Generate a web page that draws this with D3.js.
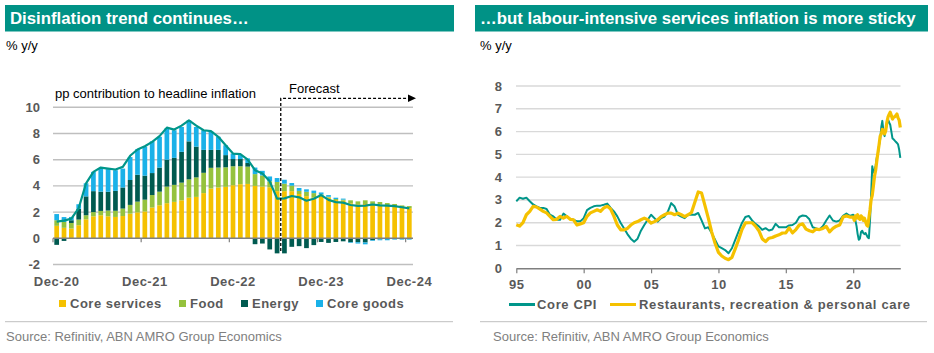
<!DOCTYPE html>
<html><head><meta charset="utf-8">
<script src="https://cdn.jsdelivr.net/npm/d3@7"></script>
<style>
body{margin:0;background:#fff}
svg{display:block;font-family:"Liberation Sans",Arial,Helvetica,sans-serif}
</style>
</head><body>
<svg id="c" width="934" height="353"></svg>
<script>
// ---------- LEFT CHART DATA (monthly, Dec-20 .. Dec-24) ----------
const monthTickLabels = ["Dec-20","Dec-21","Dec-22","Dec-23","Dec-24"];
const seriesNames = ["Core services","Food","Energy","Core goods"];
const coreServices = [0.95,0.8,0.75,1.0,1.45,1.68,1.76,1.68,1.63,1.7,1.88,1.98,2.05,2.35,2.52,2.68,2.78,2.9,3.1,3.16,3.45,3.8,3.88,3.93,4.05,4.13,4.15,4.0,3.95,3.9,3.6,3.6,3.6,3.38,3.22,3.1,3.3,3.12,2.92,2.87,2.67,2.6,2.62,2.6,2.56,2.5,2.45,2.36,2.3];
const food = [0.43,0.45,0.42,0.43,0.31,0.32,0.33,0.44,0.47,0.57,0.67,0.82,0.9,0.95,1.04,1.27,1.3,1.35,1.4,1.49,1.55,1.58,1.52,1.49,1.45,1.37,1.32,0.9,0.85,0.45,0.7,0.57,0.42,0.24,0.33,0.35,0.05,0.05,0.08,0.08,0.23,0.22,0.28,0.22,0.21,0.19,0.17,0.15,0.16];
const energy = [-0.5,-0.2,0.21,0.82,1.44,1.6,1.47,1.43,1.52,1.61,1.9,2.05,1.83,1.68,1.84,2.05,2.06,2.35,2.9,2.35,1.75,1.37,1.35,0.93,0.55,0.55,0.28,-0.45,-0.4,-0.85,-1.15,-1.15,-0.65,-0.6,-0.75,-0.52,-0.28,-0.35,-0.28,-0.23,-0.3,-0.3,-0.32,-0.15,-0.08,-0.05,-0.04,-0.04,-0.04];
const coreGoods = [0.47,0.37,0.25,0.35,1.0,1.47,1.79,1.73,1.58,1.44,1.75,1.95,2.22,2.42,2.35,2.4,2.11,1.9,1.6,1.5,1.5,1.4,1.0,0.75,0.42,0.3,0.35,0.5,0.35,0.37,0.3,0.3,0.2,0.22,0.19,0.19,0.15,0.13,0.1,0.08,-0.05,-0.1,-0.14,-0.05,-0.07,-0.1,-0.06,-0.06,-0.06];
const headline = [1.27,1.35,1.5,2.3,4.2,5.07,5.4,5.32,5.25,5.45,6.3,6.78,7.03,7.36,7.8,8.45,8.3,8.6,9.0,8.6,8.25,8.18,7.75,7.1,6.47,6.42,6.0,5.2,4.95,4.35,3.03,3.05,3.23,3.13,2.87,3.02,3.3,2.93,2.76,2.72,2.54,2.48,2.5,2.58,2.51,2.49,2.45,2.37,2.29];
const leftYTicks = [-2,0,2,4,6,8,10];
const forecastStartIndex = 31;

// ---------- RIGHT CHART DATA ----------
// quarterly 1995Q1..2019Q4, then monthly Jan-2020..Jul-2023
const coreCpiQ = [2.94,3.1,3.05,3.1, 2.94,2.8,2.72,2.65, 2.65,2.6,2.35,2.28, 2.13,2.13,2.4,2.28, 2.16,2.13,2.06,2.06, 2.2,2.55,2.65,2.72, 2.75,2.75,2.79,2.84, 2.65,2.5,2.28,1.99, 1.75,1.5,1.3,1.17, 1.3,1.65,1.9,2.13, 2.35,2.2,2.05,2.2, 2.27,2.49,2.86,2.71, 2.35,2.27,2.2,2.35, 2.35,2.35,2.43,2.1, 1.75,1.8,1.55,1.25, 0.96,0.88,0.8,0.66, 0.88,1.25,1.62,1.99, 2.25,2.3,2.1,1.95, 1.84,1.69,1.76,1.66, 1.7,1.95,1.8,1.8, 1.8,1.88,1.9,2.0, 2.25,2.32,2.3,2.15, 1.8,1.75,1.7,1.85, 2.1,2.32,2.1,2.05, 2.1,2.3,2.4,2.3];
const coreCpiM = [2.35,2.3,2.1,1.85,1.5,1.25,1.3,1.6,1.65,1.55,1.5,1.55, 1.45,1.35,1.32,2.1,3.2,4.48,4.2,4.3,4.5,4.85,5.0,5.4, 5.66,6.2,6.47,6.0,5.8,6.1,6.3,6.54,6.4,6.3,6.0,5.7, 5.66,5.6,5.55,5.5,5.44,5.2,4.85];
const restaurantsQ = [1.91,1.85,2.0,2.35, 2.5,2.72,2.69,2.6, 2.5,2.43,2.28,2.13, 2.15,2.28,2.2,2.28, 2.15,2.13,1.9,1.95, 2.0,2.28,2.43,2.5, 2.57,2.5,2.65,2.72, 2.6,2.28,1.9,1.69, 1.69,1.75,1.9,2.0, 2.05,2.13,2.2,2.13, 1.98,2.05,2.13,2.27, 2.35,2.42,2.42,2.35, 2.42,2.35,2.27,2.35, 2.45,2.9,3.35,3.3, 2.75,2.2,1.6,1.1, 0.7,0.54,0.44,0.38, 0.48,0.85,1.25,1.7, 1.99,2.0,2.0,1.85, 1.65,1.3,1.17,1.32, 1.35,1.42,1.47,1.55, 1.55,1.77,1.55,1.7, 1.9,1.95,1.72,1.65, 1.6,1.72,1.7,1.75, 1.84,1.6,1.75,1.85, 1.9,2.25,2.3,2.25];
const restaurantsM = [2.25,2.1,2.3,2.2,2.35,2.2,2.15,2.3,2.25,2.1,2.2,2.05, 1.9,1.85,2.2,2.57,3.0,3.2,3.6,4.04,4.3,4.7,5.07,5.4, 5.8,5.9,6.1,6.0,5.9,6.04,6.4,6.63,6.75,6.85,6.7,6.55, 6.63,6.65,6.7,6.77,6.6,6.5,6.18];
const rightYTicks = [0,1,2,3,4,5,6,7,8];
const rightYearTicks = [1995,2000,2005,2010,2015,2020];
const rightYearLabels = ["95","00","05","10","15","20"];

// ---------- STYLE ----------
const TEAL_BAR = "#009286";
const C = {"Core services":"#F5C100","Food":"#95C23D","Energy":"#005A50","Core goods":"#1AB1E8"};
const LINE_TEAL = "#00968A", LINE_YEL = "#F5C100";
const GREY_TXT = "#595959";

const svg = d3.select("#c");
svg.append("rect").attr("width",934).attr("height",353).attr("fill","#fff");

function header(x, w, title) {
  svg.append("rect").attr("x",x).attr("y",5).attr("width",w).attr("height",26.5).attr("fill",TEAL_BAR);
  svg.append("text").attr("x",x+5).attr("y",24.3).attr("fill","#fff").attr("font-size",16.8).attr("font-weight","bold").text(title);
}
header(5, 449, "Disinflation trend continues…");
header(475, 453, "…but labour-intensive services inflation is more sticky");

svg.append("text").attr("x",6).attr("y",50).attr("font-size",13).attr("fill","#000").text("% y/y");
svg.append("text").attr("x",480).attr("y",50).attr("font-size",13).attr("fill","#000").text("% y/y");

// separators + source
[[5,453],[480,927]].forEach(([a,b]) => {
  svg.append("line").attr("x1",a).attr("x2",b).attr("y1",321.7).attr("y2",321.7).attr("stroke","#BFBFBF").attr("stroke-width",1);
});
svg.append("text").attr("x",6).attr("y",340.5).attr("font-size",13).attr("fill","#808080").text("Source: Refinitiv, ABN AMRO Group Economics");
svg.append("text").attr("x",493).attr("y",340.5).attr("font-size",13).attr("fill","#808080").text("Source: Refinitiv, ABN AMRO Group Economics");

// ================= LEFT CHART =================
const months = d3.utcMonth.range(new Date(Date.UTC(2020,11,1)), new Date(Date.UTC(2025,0,1)));
const rows = months.map((m,i) => ({
  i, "Core services": coreServices[i], "Food": food[i], "Energy": energy[i], "Core goods": coreGoods[i]
}));
const xL = d3.scaleBand().domain(d3.range(months.length)).range([53,413]).paddingInner(0.36).paddingOuter(0.18);
const yL = d3.scaleLinear().domain([-2,10]).range([264.5,107.3]);
const gapHalf = (xL.step()-xL.bandwidth())/2;

const gL = svg.append("g");
gL.append("g").selectAll("line").data(leftYTicks.filter(d=>d!==0)).join("line")
  .attr("x1",53).attr("x2",413).attr("y1",d=>yL(d)).attr("y2",d=>yL(d))
  .attr("stroke","#BFBFBF").attr("stroke-width",1.4);

const stack = d3.stack().keys(seriesNames).offset(d3.stackOffsetDiverging);
const stacked = stack(rows);
gL.append("g").selectAll("g").data(stacked).join("g").attr("fill",d=>C[d.key])
  .selectAll("rect").data(d=>d).join("rect")
  .attr("x",d=>xL(d.data.i)).attr("width",xL.bandwidth())
  .attr("y",d=>yL(Math.max(d[0],d[1]))).attr("height",d=>Math.abs(yL(d[0])-yL(d[1])));

gL.append("line").attr("x1",53).attr("x2",413).attr("y1",yL(0)).attr("y2",yL(0)).attr("stroke","#808080").attr("stroke-width",1.6);
const tickIdx = [0,12,24,36,48];
gL.append("g").selectAll("line").data(tickIdx).join("line")
  .attr("x1",d=>xL(d)-gapHalf).attr("x2",d=>xL(d)-gapHalf)
  .attr("y1",yL(0)).attr("y2",yL(0)+4).attr("stroke","#808080").attr("stroke-width",1.2);

gL.append("path").datum(headline)
  .attr("d", d3.line().x((d,i)=>xL(i)+xL.bandwidth()/2).y(d=>yL(d)))
  .attr("fill","none").attr("stroke",LINE_TEAL).attr("stroke-width",2.2).attr("stroke-linejoin","round");

gL.append("g").selectAll("text").data(leftYTicks).join("text")
  .attr("x",40).attr("y",d=>yL(d)).attr("dy","0.35em").attr("text-anchor","end")
  .attr("font-size",13).attr("font-weight","bold").attr("fill",GREY_TXT).text(d=>d);

const xAxisL = d3.axisBottom(xL).tickValues(tickIdx).tickSize(0).tickPadding(0)
  .tickFormat((d,k)=>monthTickLabels[k]);
const axL = gL.append("g").attr("transform","translate(0,277)").call(xAxisL);
axL.select(".domain").remove();
axL.selectAll("text").attr("font-size",13).attr("font-weight","bold").attr("fill",GREY_TXT)
  .attr("font-family","Liberation Sans, Arial, sans-serif").style("letter-spacing","0.5px");

gL.append("text").attr("x",55).attr("y",98).attr("font-size",13).attr("fill","#000").text("pp contribution to headline inflation");
const fx = xL(forecastStartIndex)-gapHalf;
gL.append("text").attr("x",289).attr("y",93).attr("font-size",13).attr("fill","#000").text("Forecast");
gL.append("path").attr("d",`M${fx},251V98.3H409`).attr("fill","none").attr("stroke","#000")
  .attr("stroke-width",1.3).attr("stroke-dasharray","3,2");
gL.append("path").attr("d",`M408,94.5L416,98.3L408,102.1Z`).attr("fill","#000");

const legL = [["Core services",59,70],["Food",179,190],["Energy",241,252],["Core goods",316,327]];
legL.forEach(([k,sx,tx])=>{
  svg.append("rect").attr("x",sx).attr("y",300).attr("width",7).attr("height",7).attr("fill",C[k]);
  svg.append("text").attr("x",tx).attr("y",308).attr("font-size",13).attr("font-weight","bold")
    .attr("fill",GREY_TXT).style("letter-spacing","0.5px").text(k);
});

// ================= RIGHT CHART =================
const qDates = d3.utcMonth.every(3).range(new Date(Date.UTC(1995,0,1)), new Date(Date.UTC(2020,0,1)));
const mDates = d3.utcMonth.range(new Date(Date.UTC(2020,0,1)), new Date(Date.UTC(2023,7,1)));
const allDates = qDates.concat(mDates);
const coreCpi = coreCpiQ.concat(coreCpiM).map((v,i)=>({d:allDates[i],v}));
const restaurants = restaurantsQ.concat(restaurantsM).map((v,i)=>({d:allDates[i],v}));

const xR = d3.scaleUtc().domain([new Date(Date.UTC(1995,0,1)), new Date(Date.UTC(2023,6,1))]).range([516.3,900.3]);
const yR = d3.scaleLinear().domain([0,8]).range([268.3,86]);
const gR = svg.append("g");
gR.append("g").selectAll("line").data(rightYTicks.filter(d=>d>0)).join("line")
  .attr("x1",516).attr("x2",900.5).attr("y1",d=>yR(d)).attr("y2",d=>yR(d))
  .attr("stroke","#D9D9D9").attr("stroke-width",1.4);
gR.append("g").selectAll("text").data(rightYTicks).join("text")
  .attr("x",502).attr("y",d=>yR(d)).attr("dy","0.35em").attr("text-anchor","end")
  .attr("font-size",13).attr("font-weight","bold").attr("fill",GREY_TXT).text(d=>d);

const lineR = d3.line().x(d=>xR(d.d)).y(d=>yR(d.v));
gR.append("path").datum(coreCpi).attr("d",lineR).attr("fill","none").attr("stroke",LINE_TEAL).attr("stroke-width",2).attr("stroke-linejoin","round");
gR.append("path").datum(restaurants).attr("d",lineR).attr("fill","none").attr("stroke",LINE_YEL).attr("stroke-width",3.2).attr("stroke-linejoin","round");

const xAxisR = d3.axisBottom(xR).tickValues(rightYearTicks.map(y=>new Date(Date.UTC(y,0,1))))
  .tickSize(5).tickPadding(6.5).tickFormat((d,k)=>rightYearLabels[k]).tickSizeOuter(0);
const axR = gR.append("g").attr("transform","translate(0,268.3)").call(xAxisR);
axR.select(".domain").attr("stroke","#7F7F7F").attr("stroke-width",1.6);
axR.selectAll(".tick line").attr("stroke","#7F7F7F").attr("stroke-width",1.2);
axR.selectAll("text").attr("font-size",13).attr("font-weight","bold").attr("fill",GREY_TXT)
  .attr("font-family","Liberation Sans, Arial, sans-serif").style("letter-spacing","0.5px");

[["Core CPI",LINE_TEAL,509,537],["Restaurants, recreation & personal care",LINE_YEL,610,639]].forEach(([t,c,lx,tx])=>{
  svg.append("line").attr("x1",lx).attr("x2",lx+26).attr("y1",304.5).attr("y2",304.5).attr("stroke",c).attr("stroke-width",3);
  svg.append("text").attr("x",tx).attr("y",309).attr("font-size",13).attr("font-weight","bold")
    .attr("fill",GREY_TXT).style("letter-spacing","0.65px").text(t);
});
</script>
</body></html>
